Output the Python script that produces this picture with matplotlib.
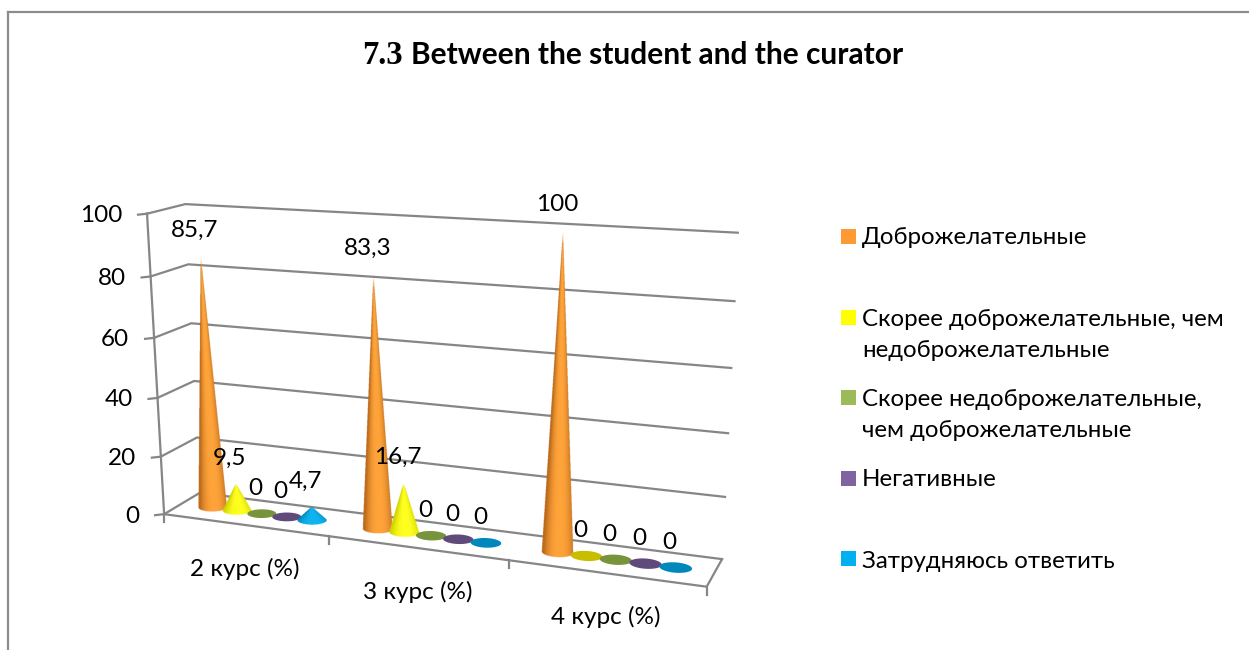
"""7.3 Between the student and the curator - 3D cone chart drawn through a small camera model."""

import numpy as np
import matplotlib
matplotlib.use("Agg")
import matplotlib.pyplot as plt
from matplotlib.colors import to_rgb
from matplotlib.patches import Polygon, Rectangle
from matplotlib.path import Path

plt.rcParams["font.family"] = ["Lato", "Open Sans"]

CATEGORIES = ["2 курс (%)", "3 курс (%)", "4 курс (%)"]
SERIES = [
    "Доброжелательные",
    "Скорее доброжелательные, чем\nнедоброжелательные",
    "Скорее недоброжелательные,\nчем доброжелательные",
    "Негативные",
    "Затрудняюсь ответить",
]
friendly = [85.7, 83.3, 100]
rather_friendly = [9.5, 16.7, 0]
rather_unfriendly = [0, 0, 0]
negative = [0, 0, 0]
no_answer = [4.7, 0, 0]
VALUES = [friendly, rather_friendly, rather_unfriendly, negative, no_answer]
Y_TICKS = [0, 20, 40, 60, 80, 100]

SWATCH_COLORS = ["#FF9933", "#FFFF00", "#9BBB59", "#8064A2", "#00B0F0"]
CONE_COLORS = ["#FFA43A", "#FFFF20", "#9BBB59", "#8064A2", "#10B4F0"]
EDGE_COLORS = ["#BC6A1C", "#D2D200", "#6F8A3A", "#5A4578", "#0088BC"]
FLAT_COLORS = ["#C0701F", "#C8BE00", "#77933C", "#604A7B", "#0088BC"]
GRID = "#868686"

CONE_RU = 0.027
CONE_RV = 0.18
SERIES_STEP = 0.153  # fraction of a category between neighbouring cones

# where the plot box sits on the canvas: (u along categories, v depth, z value) -> pixel
ANCHORS = [
    ((0, 0, 0), (164, 514)), ((1 / 3, 0, 0), (329, 537)), ((2 / 3, 0, 0), (509, 561)),
    ((1, 0, 0), (707, 586)), ((0, 1, 0), (200, 493)), ((1, 1, 0), (722, 559)),
    ((0, 0, 100), (147, 214)), ((0, 1, 100), (185, 204)), ((1, 1, 100), (738, 233)),
    ((1, 1, 40), (728, 433)), ((0, 0, 40), (158, 397)),
]


def fit_camera(anchors):
    rows = []
    for (u, v, z), (px, py) in anchors:
        w = [u, v, z / 100, 1]
        rows.append(w + [0, 0, 0, 0] + [-px * c for c in w])
        rows.append([0, 0, 0, 0] + w + [-py * c for c in w])
    _, _, vt = np.linalg.svd(np.array(rows, dtype=float))
    return vt[-1].reshape(3, 4)


CAMERA = fit_camera(ANCHORS)


def project(u, v, z):
    u, v, z = np.broadcast_arrays(u, v, z)
    w = np.stack([u, v, z / 100, np.ones_like(u, dtype=float)])
    p = CAMERA @ w
    return p[0] / p[2], p[1] / p[2]


def draw_cone(ax, u, value, s):
    theta = np.linspace(0, 2 * np.pi, 145)
    xs, ys = project(u + CONE_RU * np.sin(theta), 0.5 - CONE_RV * np.cos(theta), 0 * theta)
    if value == 0:
        ax.add_patch(Polygon(np.c_[xs, ys], closed=True, fc=FLAT_COLORS[s], ec="none", zorder=3))
        return

    tip_x, tip_y = project(u, 0.5, value)
    tip_x, tip_y = float(tip_x), float(tip_y)

    # silhouette: tip plus the part of the base between the two tangent points
    slopes = (xs - tip_x) / (ys - tip_y)
    i_left, i_right = int(np.argmin(slopes)), int(np.argmax(slopes))
    ring = np.roll(np.arange(len(theta) - 1), -i_right)
    arc = ring[: list(ring).index(i_left) + 1]
    if ys[arc].max() < ys.max():
        arc = np.roll(np.arange(len(theta) - 1), -i_left)
        arc = arc[: list(arc).index(i_right) + 1]
    hull = Path(np.vstack([[tip_x, tip_y], np.c_[xs[arc], ys[arc]]]))

    # render at 4x and let the image resampling smooth the outline
    x0, x1 = np.floor(xs.min() - 2), np.ceil(xs.max() + 2)
    y0, y1 = np.floor(tip_y - 2), np.ceil(ys.max() + 2)
    gx = np.arange(x0, x1, 0.25) + 0.125
    gy = np.arange(y0, y1, 0.25) + 0.125
    mx, my = np.meshgrid(gx, gy)
    left = tip_x + slopes[i_left] * (my - tip_y)
    right = tip_x + slopes[i_right] * (my - tip_y)
    f = np.clip((mx - left) / np.maximum(right - left, 0.01), 0, 1)
    t = np.abs(2 * f - 1.12) ** 2.4
    t = np.clip(t[..., None], 0, 1)
    hi, lo = np.array(to_rgb(CONE_COLORS[s])), np.array(to_rgb(EDGE_COLORS[s]))
    rgb = hi * (1 - t) + lo * t
    inside = hull.contains_points(np.c_[mx.ravel(), my.ravel()]).reshape(mx.shape)
    fade_len = min(14, 0.1 * (ys.max() - tip_y))
    fade = np.clip((my - tip_y) / fade_len, 0.35, 1)
    img = np.dstack([rgb, inside * fade])
    ax.imshow(img, extent=(x0, x1, y1, y0), origin="upper", aspect="auto",
              interpolation="hanning", zorder=3)


fig = plt.figure(figsize=(12.49, 6.5), dpi=100)
ax = fig.add_axes([0, 0, 1, 1])
ax.axis("off")

# outer chart border, only top and left show in the crop
ax.plot([8, 1249], [12, 12], color="#8C8C8C", lw=1.6)
ax.plot([8, 8], [12, 650], color="#8C8C8C", lw=1.6)

ax.text(362, 55, "7.3", fontsize=23.5, fontweight="bold", family="Liberation Serif",
        va="center", ha="left", color="black")
ax.text(411, 55, "Between the student and the curator", fontsize=21.5, fontweight="bold",
        va="center", ha="left", color="black")

# walls and floor
for tick in Y_TICKS:
    x, y = project(np.array([0, 0, 1, 1]), np.array([0, 1, 1, 1]), np.array([tick] * 4))
    ax.plot(x[:3], y[:3], color=GRID, lw=1.6, zorder=1)
    fx, fy = project(0.0, 0.0, tick)
    ax.plot([fx - 9, fx], [fy + 1, fy], color=GRID, lw=1.6, zorder=1)
    ax.text(fx - 25, fy + 2, str(tick), fontsize=17.5, ha="right", va="center", color="black")

x, y = project(np.array([0.0, 0.0]), np.array([0.0, 0.0]), np.array([0, 100]))
ax.plot(x, y, color=GRID, lw=1.6, zorder=1)
x, y = project(np.array([0.0, 1.0, 1.0]), np.array([0.0, 0.0, 1.0]), np.array([0, 0, 0]))
ax.plot(x, y, color=GRID, lw=1.6, zorder=1)

for k in range(len(CATEGORIES) + 1):
    fx, fy = project(k / len(CATEGORIES), 0.0, 0)
    ax.plot([fx, fx], [fy, fy + 8], color=GRID, lw=1.6, zorder=1)

for k, cat in enumerate(CATEGORIES):
    fx, fy = project((k + 0.5) / len(CATEGORIES), 0.0, 0)
    ax.text(fx, fy + 44, cat, fontsize=17.5, ha="center", va="center", color="black")

# cones and their labels
for k in range(len(CATEGORIES)):
    for s, vals in enumerate(VALUES):
        u = (k + 0.5 + (s - 2) * SERIES_STEP) / len(CATEGORIES)
        draw_cone(ax, u, vals[k], s)
for k in range(len(CATEGORIES)):
    for s, vals in enumerate(VALUES):
        u = (k + 0.5 + (s - 2) * SERIES_STEP) / len(CATEGORIES)
        tip_x, tip_y = project(u, 0.5, vals[k])
        label = f"{vals[k]:g}".replace(".", ",")
        ax.text(tip_x - 6, tip_y - 25, label, fontsize=17.5, ha="center", va="center",
                color="black", zorder=5)

# legend
swatch_y = [229, 310, 390, 471, 551]
text_y = [238, 335, 415, 479, 561]
for name, color, sy, ty in zip(SERIES, SWATCH_COLORS, swatch_y, text_y):
    ax.add_patch(Rectangle((841, sy), 15, 15, fc=color, ec="none"))
    ax.text(862, ty, name, fontsize=17.3, ha="left", va="center", linespacing=1.6, color="black")

ax.set_xlim(0, 1249)
ax.set_ylim(650, 0)

fig.savefig("out.png", dpi=100)
